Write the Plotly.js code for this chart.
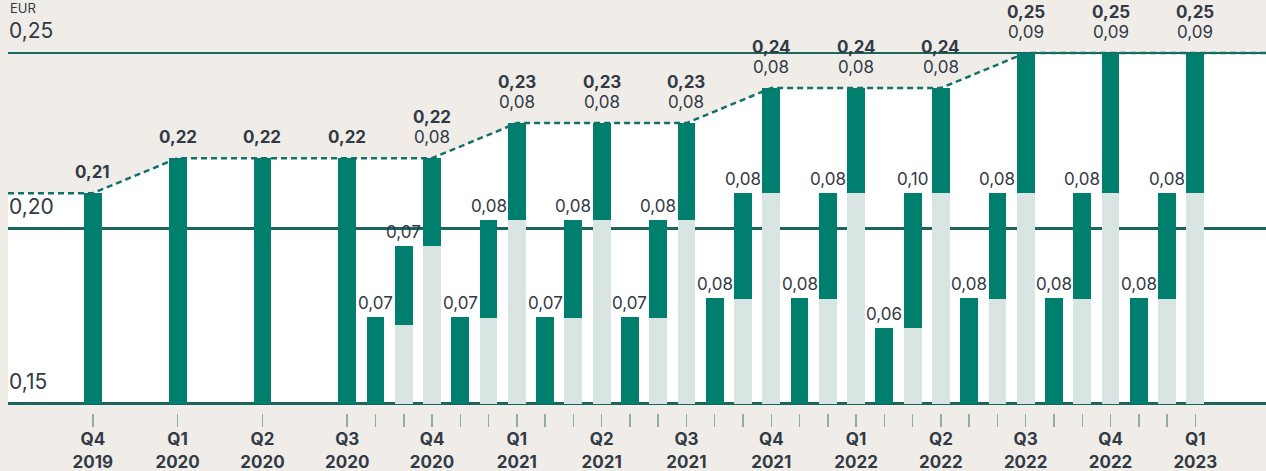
<!DOCTYPE html>
<html><head><meta charset="utf-8">
<script src="https://cdn.plot.ly/plotly-3.0.1.min.js"></script>
<style>html,body{margin:0;padding:0;background:#F0EDE8;}#chart{width:1266px;height:471px;}</style>
</head><body><div id="chart"></div>
<script>
// ---- data ----
const quarters = ['Q4<br>2019','Q1<br>2020','Q2<br>2020','Q3<br>2020','Q4<br>2020','Q1<br>2021','Q2<br>2021',
                  'Q3<br>2021','Q4<br>2021','Q1<br>2022','Q2<br>2022','Q3<br>2022','Q4<br>2022','Q1<br>2023'];
// annual total shown on the EUR axis
const totals = [0.21,0.22,0.22,0.22,0.22,0.23,0.23,0.23,0.24,0.24,0.24,0.25,0.25,0.25];
// quarterly components (labels)
const firstPart  = [null,null,null,null,0.07,0.07,0.07,0.07,0.08,0.08,0.06,0.08,0.08,0.08];
const secondPart = [null,null,null,null,0.07,0.08,0.08,0.08,0.08,0.08,0.10,0.08,0.08,0.08];
const lastPart   = [null,null,null,null,0.08,0.08,0.08,0.08,0.08,0.08,0.08,0.09,0.09,0.09];
// drawn levels of the cumulative bars, as read on the EUR axis
const firstTop   = [null,null,null,null,0.1747,0.1747,0.1747,0.1747,0.1800,0.1800,0.1715,0.1800,0.1800,0.1800];
const secondBase = [null,null,null,null,0.1724,0.1745,0.1745,0.1745,0.1799,0.1799,0.1715,0.1799,0.1799,0.1799];
const secondTop  = [null,null,null,null,0.1949,0.2023,0.2023,0.2023,0.2100,0.2100,0.2100,0.2100,0.2100,0.2100];
const axisBase = 0.15;
const yTicks = [0.15,0.20,0.25];
const yTickText = ['0,15','0,20','0,25'];
const unitLabel = 'EUR';

// ---- styles ----
const DARK = '#007F6E', LIGHT = '#D8E5E3', BG = '#F0EDE8', GRID = '#1A655F',
      DASH = '#13706A', TXT = '#323A45', TICK = '#8FACA8', FONT = 'Inter, "Open Sans", sans-serif';
const fmt = v => v.toFixed(2).replace('.', ',');

// x position: quarter i at 3*i, sub-bars at 3i-2, 3i-1, 3i
const qx = i => 3 * i;

const aX = [], aBase = [], aH = [];
const lX = [], lBase = [], lH = [];
const cX = [], cBase = [], cH = [];
const ann = [];
const tickVals = [], tickText = [];

quarters.forEach((q, i) => {
  if (firstPart[i] === null) {
    aX.push(qx(i)); aBase.push(axisBase); aH.push(totals[i] - axisBase);
    tickVals.push(qx(i)); tickText.push(q);
    ann.push({x: qx(i), y: totals[i], text: '<b>' + fmt(totals[i]) + '</b>', yshift: 21});
  } else {
    const x1 = qx(i) - 2, x2 = qx(i) - 1, x3 = qx(i);
    aX.push(x1); aBase.push(axisBase); aH.push(firstTop[i] - axisBase);
    lX.push(x2); lBase.push(axisBase); lH.push(secondBase[i] - axisBase);
    cX.push(x2); cBase.push(secondBase[i]); cH.push(secondTop[i] - secondBase[i]);
    lX.push(x3); lBase.push(axisBase); lH.push(secondTop[i] - axisBase);
    cX.push(x3); cBase.push(secondTop[i]); cH.push(totals[i] - secondTop[i]);
    tickVals.push(x1, x2, x3); tickText.push('', '', q);
    ann.push({x: x1, y: firstTop[i], text: fmt(firstPart[i]), yshift: 14});
    ann.push({x: x2, y: secondTop[i], text: fmt(secondPart[i]), yshift: 14});
    ann.push({x: x3, y: totals[i], text: fmt(lastPart[i]), yshift: 21});
    ann.push({x: x3, y: totals[i], text: '<b>' + fmt(totals[i]) + '</b>', yshift: 41});
  }
});

const xMin = -3, xMax = 41.5;
// dashed trend through annual totals
const lineX = [xMin].concat(quarters.map((q, i) => qx(i))).concat([xMax]);
const lineY = [totals[0]].concat(totals).concat([totals[totals.length - 1]]);

// white area under the trend (built from the same points)
let path = 'M ' + xMin + ',' + axisBase;
lineX.forEach((x, k) => { path += ' L ' + x + ',' + lineY[k]; });
path += ' L ' + xMax + ',' + axisBase + ' Z';

const barCommon = {type: 'bar', width: 0.63, hoverinfo: 'skip', showlegend: false};
const traces = [
  {type: 'scatter', mode: 'lines', x: lineX, y: lineY, hoverinfo: 'skip', showlegend: false,
   line: {color: DASH, width: 2.5, dash: '6px,4px'}},
  Object.assign({}, barCommon, {x: aX, base: aBase, y: aH, marker: {color: DARK, opacity: 1, line: {width: 0}}}),
  Object.assign({}, barCommon, {x: lX, base: lBase, y: lH, marker: {color: LIGHT, opacity: 1, line: {width: 0}}}),
  Object.assign({}, barCommon, {x: cX, base: cBase, y: cH, marker: {color: DARK, opacity: 1, line: {width: 0}}})
];

const annotations = ann.map(a => ({
  x: a.x, y: a.y, xref: 'x', yref: 'y', text: a.text, showarrow: false,
  xanchor: 'center', yanchor: 'middle', yshift: a.yshift,
  font: {family: FONT, size: 17, color: TXT}
}));
annotations.push({x: 0, y: 1, xref: 'paper', yref: 'paper', text: unitLabel, showarrow: false,
  xanchor: 'left', yanchor: 'top', yshift: 2, font: {family: FONT, size: 13, color: TXT}});

const layout = {
  width: 1266, height: 471,
  margin: {l: 8, r: 0, t: 0, b: 58, pad: 0},
  paper_bgcolor: BG, plot_bgcolor: BG,
  barmode: 'overlay', bargap: 0,
  font: {family: FONT, color: TXT},
  xaxis: {
    range: [xMin, xMax], tickmode: 'array', tickvals: tickVals, ticktext: tickText,
    ticks: 'outside', ticklen: 13, tickwidth: 1.5, tickcolor: TICK, ticklabelstandoff: -2,
    showgrid: false, zeroline: false, showline: false, fixedrange: true,
    tickfont: {family: FONT, size: 17, color: TXT, weight: 700}
  },
  yaxis: {
    range: [0.14729, 0.26512], tickmode: 'array', tickvals: yTicks, ticktext: yTickText,
    showgrid: true, gridcolor: GRID, gridwidth: 2.5, zeroline: false, showline: false,
    ticks: '', ticklabelposition: 'inside', ticklabelshift: -22, ticklabelstandoff: -2, fixedrange: true,
    tickfont: {family: FONT, size: 21, color: TXT}
  },
  shapes: [{type: 'path', xref: 'x', yref: 'y', path: path, fillcolor: '#FFFFFF', line: {width: 0}, layer: 'below'}],
  annotations: annotations
};

Plotly.newPlot('chart', traces, layout, {displayModeBar: false, staticPlot: true});
</script></body></html>
